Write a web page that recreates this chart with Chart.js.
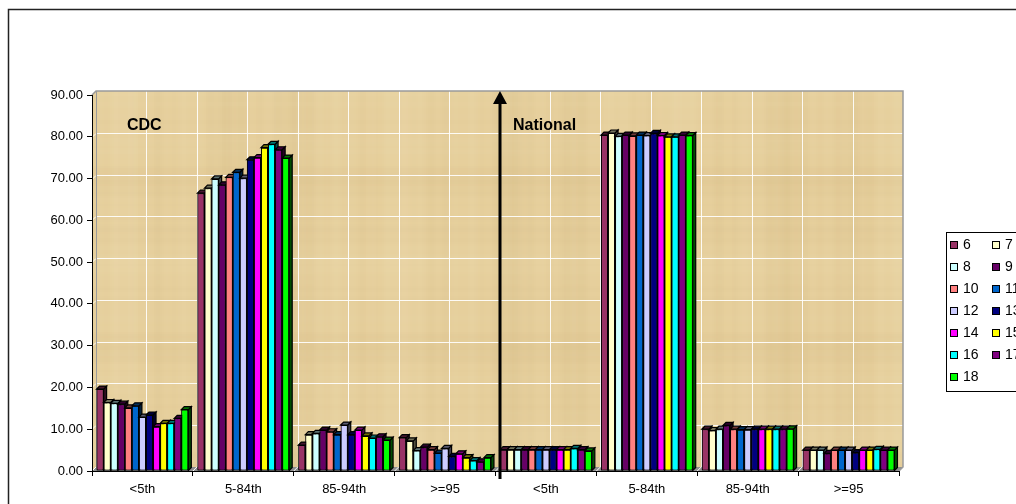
<!DOCTYPE html>
<html>
<head>
<meta charset="utf-8">
<script src="https://cdn.jsdelivr.net/npm/chart.js@4.4.1/dist/chart.umd.min.js"></script>
<style>
  html, body { margin: 0; padding: 0; background: #fff; }
  canvas { display: block; }
</style>
</head>
<body>
<canvas id="chart" width="1016" height="504"></canvas>
<script>
// Weight-for-age percentile groups: CDC reference (left half) and national (right half)
const categories = ['<5th', '5-84th', '85-94th', '>=95', '<5th', '5-84th', '85-94th', '>=95'];
const ageLabels = ['6', '7', '8', '9', '10', '11', '12', '13', '14', '15', '16', '17', '18'];

// Percent of children in each group, one array per age
const age6  = [19.6, 66.5,  6.2, 8.0, 5.1, 80.4, 10.0, 5.0];
const age7  = [16.4, 67.7,  8.7, 7.2, 5.1, 80.9,  9.7, 5.0];
const age8  = [16.2, 69.9,  9.0, 4.9, 5.1, 80.1, 10.0, 5.0];
const age9  = [16.0, 68.5,  9.8, 5.7, 5.1, 80.4, 10.9, 4.2];
const age10 = [15.1, 70.3,  9.4, 5.1, 5.1, 80.2, 10.0, 5.0];
const age11 = [15.6, 71.5,  8.7, 4.3, 5.1, 80.4,  9.9, 5.0];
const age12 = [12.9, 70.1, 11.0, 5.4, 5.1, 80.3,  9.9, 5.0];
const age13 = [13.4, 74.5,  8.7, 3.5, 5.1, 80.8, 10.0, 4.4];
const age14 = [10.6, 75.0,  9.8, 4.1, 5.1, 80.3, 10.0, 5.0];
const age15 = [11.4, 77.4,  8.4, 3.2, 5.1, 80.0, 10.0, 5.0];
const age16 = [11.4, 78.2,  7.9, 2.5, 5.4, 80.0, 10.0, 5.2];
const age17 = [12.6, 76.9,  8.2, 2.2, 5.1, 80.4, 10.0, 5.0];
const age18 = [14.7, 74.9,  7.4, 3.2, 4.8, 80.3, 10.1, 5.0];

const seriesValues = [age6, age7, age8, age9, age10, age11, age12, age13, age14, age15, age16, age17, age18];
const barColors = ['#993366', '#FFFFCC', '#CCFFFF', '#660066', '#FF8080', '#0066CC', '#CCCCFF',
                   '#000080', '#FF00FF', '#FFFF00', '#00FFFF', '#800080', '#00FF00'];
const yMin = 0, yMax = 90, yStep = 10;
const groupTitles = ['CDC', 'National'];

const FONT = '"Liberation Sans", Arial, Helvetica, sans-serif';
const WALL_DEPTH = 4;   // offset of the back wall
const BAR_DEPTH = 3;    // depth of each column

function shade(hex, f) {
  const n = parseInt(hex.slice(1), 16);
  const r = Math.round(((n >> 16) & 255) * f), g = Math.round(((n >> 8) & 255) * f), b = Math.round((n & 255) * f);
  return `rgb(${r},${g},${b})`;
}

// Soft parchment texture for the plot wall
function makeParchment(w, h) {
  const c = document.createElement('canvas');
  c.width = w; c.height = h;
  const g = c.getContext('2d');
  g.fillStyle = '#E6CF9C';
  g.fillRect(0, 0, w, h);
  for (let x = 0; x < w; x += 2) {
    const a = 0.035 * (Math.sin(x * 0.09) + Math.sin(x * 0.023 + 2) + 0.6 * Math.sin(x * 0.37));
    g.fillStyle = a > 0 ? `rgba(170,140,80,${a})` : `rgba(255,248,225,${-a})`;
    g.fillRect(x, 0, 2, h);
  }
  for (let y = 0; y < h; y += 2) {
    const a = 0.025 * (Math.sin(y * 0.11 + 1) + Math.sin(y * 0.041) + 0.5 * Math.sin(y * 0.53));
    g.fillStyle = a > 0 ? `rgba(170,140,80,${a})` : `rgba(255,248,225,${-a})`;
    g.fillRect(0, y, w, 2);
  }
  return c;
}
const parchment = makeParchment(1016, 504);

const wallPlugin = {
  id: 'wall',
  beforeDraw(chart) {
    const { ctx, chartArea: a, scales: { x, y } } = chart;
    const d = WALL_DEPTH;
    const top = y.getPixelForValue(yMax);
    const L = a.left + d, T = top - d, R = a.right + d, B = a.bottom - d;
    ctx.save();
    ctx.fillStyle = '#fff';
    ctx.fillRect(0, 0, chart.width, chart.height);

    // back wall + side wall
    ctx.save();
    ctx.beginPath();
    ctx.moveTo(a.left, top); ctx.lineTo(L, T); ctx.lineTo(R, T); ctx.lineTo(R, B);
    ctx.lineTo(a.left, a.bottom); ctx.closePath();
    ctx.clip();
    ctx.drawImage(parchment, 0, 0);
    ctx.restore();

    // gridlines on the wall
    ctx.strokeStyle = 'rgba(255,255,255,0.9)';
    ctx.lineWidth = 1;
    for (let v = yMin + yStep; v < yMax; v += yStep) {
      const py = Math.round(y.getPixelForValue(v) - d) + 0.5;
      ctx.beginPath(); ctx.moveTo(a.left, py + d); ctx.lineTo(L, py); ctx.lineTo(R, py); ctx.stroke();
    }
    const n = categories.length * 2;
    const step = (a.right - a.left) / n;
    for (let k = 1; k < n; k++) {
      const px = Math.round(a.left + k * step + d) + 0.5;
      ctx.beginPath(); ctx.moveTo(px, T); ctx.lineTo(px, B); ctx.stroke();
    }

    // floor
    ctx.fillStyle = '#8E8E8E';
    ctx.beginPath();
    ctx.moveTo(a.left, a.bottom); ctx.lineTo(a.right, a.bottom); ctx.lineTo(R, B); ctx.lineTo(L, B);
    ctx.closePath(); ctx.fill();
    ctx.strokeStyle = '#fff';
    for (let k = 0; k <= categories.length; k++) {
      const px = a.left + k * step * 2;
      ctx.beginPath(); ctx.moveTo(px, a.bottom); ctx.lineTo(px + d, B); ctx.stroke();
    }

    // wall outline
    ctx.strokeStyle = '#9A9A9A';
    ctx.lineWidth = 1.5;
    ctx.beginPath();
    ctx.moveTo(a.left, top); ctx.lineTo(L, T); ctx.lineTo(R, T); ctx.lineTo(R, B); ctx.lineTo(a.right, a.bottom);
    ctx.stroke();
    ctx.lineWidth = 1;
    ctx.beginPath(); ctx.moveTo(L + 0.5, T); ctx.lineTo(L + 0.5, B); ctx.stroke();
    ctx.restore();
  }
};

// Gives every column a top and a right face, left to right within each group
const columnsPlugin = {
  id: 'columns3d',
  afterDatasetsDraw(chart) {
    const ctx = chart.ctx;
    const metas = chart.data.datasets.map((_, i) => chart.getDatasetMeta(i));
    const d = BAR_DEPTH;
    ctx.save();
    ctx.lineWidth = 1.2;
    ctx.strokeStyle = '#000';
    for (let j = 0; j < categories.length; j++) {
      metas.forEach((meta, i) => {
        const el = meta.data[j];
        if (!el) return;
        el.draw(ctx);
        const { x, y, base, width } = el.getProps(['x', 'y', 'base', 'width'], true);
        const l = x - width / 2, r = x + width / 2;
        ctx.fillStyle = shade(barColors[i], 0.3);
        ctx.beginPath();
        ctx.moveTo(r, y); ctx.lineTo(r + d, y - d); ctx.lineTo(r + d, base - d); ctx.lineTo(r, base);
        ctx.closePath(); ctx.fill(); ctx.stroke();
        ctx.fillStyle = shade(barColors[i], 0.45);
        ctx.beginPath();
        ctx.moveTo(l, y); ctx.lineTo(l + d, y - d); ctx.lineTo(r + d, y - d); ctx.lineTo(r, y);
        ctx.closePath(); ctx.fill(); ctx.stroke();
      });
    }
    ctx.restore();
  }
};

const decorPlugin = {
  id: 'decor',
  afterDraw(chart) {
    const { ctx, chartArea: a, scales: { x, y } } = chart;
    ctx.save();

    // divider arrow between the two reference groups
    const half = categories.length / 2;
    const ax = Math.round((x.getPixelForValue(half - 1) + x.getPixelForValue(half)) / 2 + WALL_DEPTH);
    const tipY = y.getPixelForValue(yMax) - WALL_DEPTH;
    ctx.strokeStyle = '#000';
    ctx.fillStyle = '#000';
    ctx.lineWidth = 3;
    ctx.beginPath(); ctx.moveTo(ax, a.bottom + 8); ctx.lineTo(ax, tipY + 10); ctx.stroke();
    ctx.beginPath(); ctx.moveTo(ax, tipY); ctx.lineTo(ax - 7, tipY + 13); ctx.lineTo(ax + 7, tipY + 13);
    ctx.closePath(); ctx.fill();

    // group titles
    ctx.font = `bold 16px ${FONT}`;
    ctx.textBaseline = 'middle';
    ctx.textAlign = 'left';
    const ty = a.top + 31;
    ctx.fillText(groupTitles[0], a.left + 35, ty);
    ctx.fillText(groupTitles[1], ax + 13, ty);

    // legend, two entries per row
    const lx = 946.5, ly = 232.5;
    ctx.lineWidth = 1;
    ctx.strokeStyle = '#000';
    ctx.strokeRect(lx, ly, 120, 159);
    ctx.font = `14px ${FONT}`;
    chart.data.datasets.forEach((ds, i) => {
      const col = i % 2, row = Math.floor(i / 2);
      const sx = 950 + col * 42, cy = 245 + row * 22;
      ctx.fillStyle = ds.backgroundColor;
      ctx.fillRect(sx, cy - 4, 8, 8);
      ctx.strokeRect(sx + 0.5, cy - 3.5, 7, 7);
      ctx.fillStyle = '#000';
      ctx.fillText(ds.label, sx + 13, cy + 0.5);
    });

    // outer chart frame
    ctx.strokeStyle = '#222';
    ctx.lineWidth = 1.5;
    ctx.strokeRect(8.5, 9.5, 1200, 700);
    ctx.restore();
  }
};

new Chart(document.getElementById('chart'), {
  type: 'bar',
  data: {
    labels: categories,
    datasets: seriesValues.map((vals, i) => ({
      label: ageLabels[i],
      data: vals,
      backgroundColor: barColors[i],
      borderColor: '#000',
      borderWidth: 1,
      borderSkipped: false,
      categoryPercentage: 0.91,
      barPercentage: 1.0
    }))
  },
  options: {
    responsive: false,
    animation: false,
    devicePixelRatio: 1,
    layout: { padding: { top: 95, right: 117, bottom: 0, left: 0 } },
    plugins: { legend: { display: false }, tooltip: { enabled: false } },
    scales: {
      x: {
        offset: true,
        grid: { display: true, drawOnChartArea: false, drawTicks: true, tickLength: 5, color: '#000', offset: true },
        border: { display: true, color: '#000', width: 1 },
        ticks: { color: '#000', font: { family: FONT, size: 13 }, padding: 6, maxRotation: 0, autoSkip: false },
        afterFit(scale) { scale.height = 33; }
      },
      y: {
        min: yMin, max: yMax,
        grid: { display: true, drawOnChartArea: false, drawTicks: true, tickLength: 5, color: '#000' },
        border: { display: true, color: '#000', width: 1 },
        ticks: { stepSize: yStep, color: '#000', font: { family: FONT, size: 13 }, padding: 4,
                 callback: v => Number(v).toFixed(2) },
        afterFit(scale) { scale.width = 92; }
      }
    }
  },
  plugins: [wallPlugin, columnsPlugin, decorPlugin]
});
</script>
</body>
</html>
